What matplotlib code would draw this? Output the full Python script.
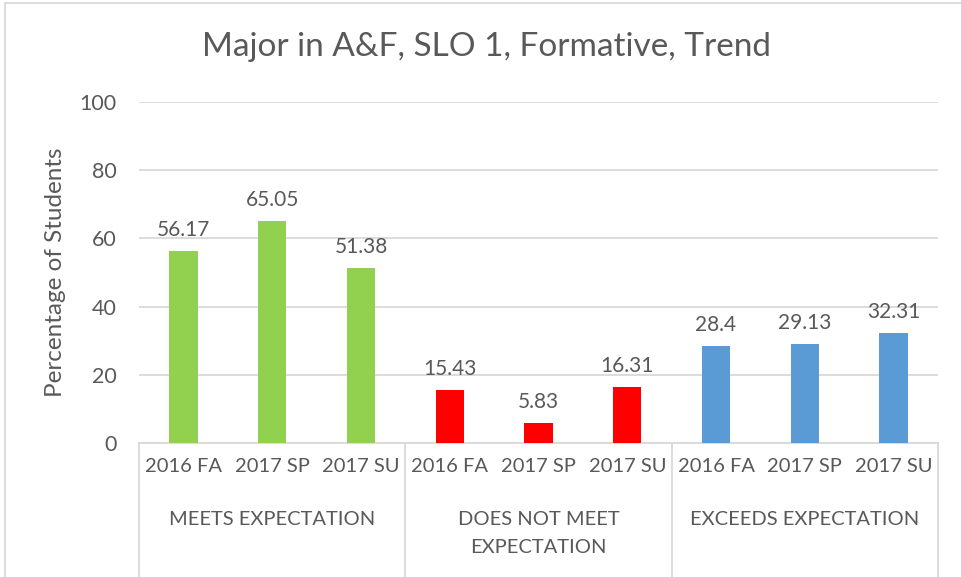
import matplotlib.pyplot as plt
import matplotlib.transforms as mtransforms
from matplotlib.patches import Rectangle
import numpy as np

plt.rcParams['font.family'] = ['Lato', 'DejaVu Sans']

# data
groups = ["MEETS EXPECTATION", "DOES NOT MEET\nEXPECTATION", "EXCEEDS EXPECTATION"]
terms = ["2016 FA", "2017 SP", "2017 SU"]
meets = [56.17, 65.05, 51.38]
does_not_meet = [15.43, 5.83, 16.31]
exceeds = [28.4, 29.13, 32.31]
colors = ["#92D050", "#FF0000", "#5B9BD5"]

text_col = "#595959"
grid_col = "#D9D9D9"

fig = plt.figure(figsize=(9.62, 5.77), dpi=100)
ax = fig.add_axes([139 / 962, 1 - 443 / 577, (938 - 139) / 962, (443 - 102) / 577])

series = [meets, does_not_meet, exceeds]
labels_all = []
xpos = []
for g, vals in enumerate(series):
    x = np.arange(len(vals)) + g * len(terms)
    xpos.extend(x)
    labels_all.extend(terms)
    ax.bar(x, vals, width=0.32, color=colors[g], zorder=3)
    for xi, v in zip(x, vals):
        ax.annotate(f"{v:g}", (xi, v), xytext=(0, 8), textcoords="offset points",
                    ha="center", va="bottom", fontsize=15, color=text_col)

ax.set_xlim(-0.5, len(xpos) - 0.5)
ax.set_ylim(0, 100)
ax.set_yticks(np.arange(0, 101, 20))
ax.yaxis.grid(True, color=grid_col, linewidth=1.3, zorder=0)
ax.tick_params(axis="y", length=0, labelsize=15.5, labelcolor=text_col, pad=16)
ax.set_xticks(xpos)
ax.set_xticklabels(labels_all)
ax.tick_params(axis="x", length=0, labelsize=14.5, labelcolor=text_col, pad=11)

for s in ["top", "right", "left"]:
    ax.spines[s].set_visible(False)
ax.spines["bottom"].set_color(grid_col)
ax.spines["bottom"].set_linewidth(1.3)

# group labels and separators below axis
trans = mtransforms.blended_transform_factory(ax.transData, ax.transAxes)
for g, name in enumerate(groups):
    center = g * len(terms) + 1
    ax.text(center, -0.2, name, transform=trans, ha="center", va="top",
            fontsize=14.5, color=text_col, linespacing=1.75)
for b in range(len(groups) + 1):
    xb = b * len(terms) - 0.5
    ax.plot([xb, xb], [0, -0.42], transform=trans, color=grid_col,
            linewidth=1.3, clip_on=False)

ax.set_ylabel("Percentage of Students", fontsize=17.5, color=text_col, labelpad=10)
fig.text(487 / 962, 1 - 47 / 577, "Major in A&F, SLO 1, Formative, Trend",
         ha="center", va="center", fontsize=24, color=text_col)

# chart border (cropped)
fig.patches.append(Rectangle((5 / 962, -0.05), 1.2, 1 - 3 / 577 + 0.05,
                             transform=fig.transFigure, fill=False,
                             edgecolor=grid_col, linewidth=1.3))

fig.savefig("out.png", dpi=100)
